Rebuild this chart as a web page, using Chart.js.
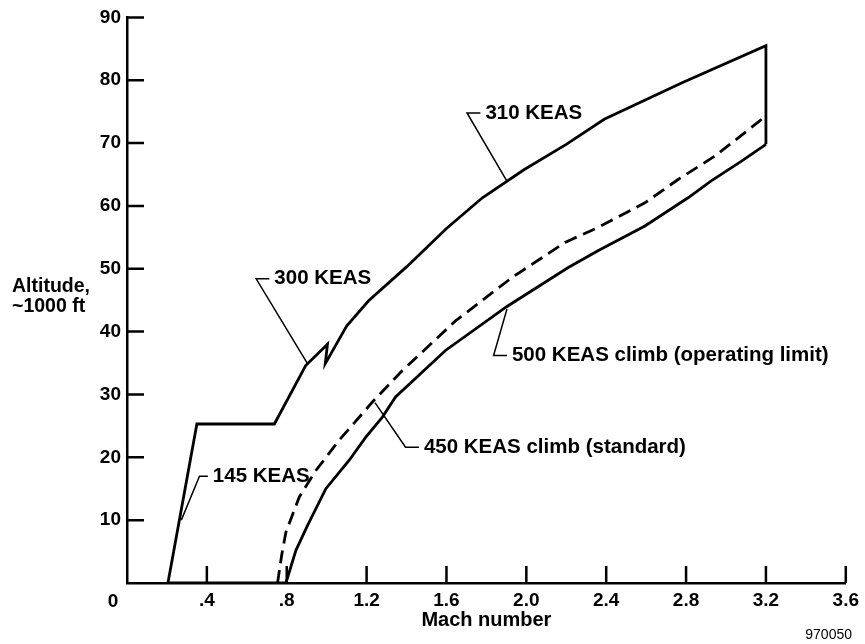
<!DOCTYPE html>
<html>
<head>
<meta charset="utf-8">
<script src="https://cdn.jsdelivr.net/npm/chart.js@4.4.0/dist/chart.umd.min.js"></script>
<style>
    html, body { margin: 0; padding: 0; background: #ffffff; }
</style>
</head>
<body>
<canvas id="envelopeChart" width="865" height="644"></canvas>
<script>
// Axis ticks
const machTicks = [0, 0.4, 0.8, 1.2, 1.6, 2.0, 2.4, 2.8, 3.2, 3.6];
const machTickLabels = ['', '.4', '.8', '1.2', '1.6', '2.0', '2.4', '2.8', '3.2', '3.6'];
const altTicks = [0, 10, 20, 30, 40, 50, 60, 70, 80, 90];
const altTickLabels = ['', '10', '20', '30', '40', '50', '60', '70', '80', '90'];

// Outer boundary: 145 / 300 / 310 KEAS and the Mach 3.2 limit (altitude in 1000 ft)
const outerMach = [0.205, 0.35, 0.738, 0.895, 1.004, 0.993, 1.10, 1.21, 1.40, 1.60, 1.78, 1.99, 2.20, 2.39, 2.78, 3.20, 3.20];
const outerAlt  = [0, 25.3, 25.3, 34.6, 38.0, 34.9, 40.9, 44.9, 50.3, 56.4, 61.3, 65.8, 69.8, 73.8, 79.6, 85.5, 69.8];

// 450 KEAS climb (standard), dashed
const standardMach = [0.754, 0.775, 0.796, 0.863, 0.946, 1.062, 1.229, 1.379, 1.645, 1.928, 2.194, 2.361, 2.594, 2.76, 2.943, 3.20];
const standardAlt  = [0, 4.5, 8.1, 13.7, 17.9, 22.7, 28.8, 33.8, 41.7, 48.6, 54.2, 56.6, 60.5, 64.2, 67.9, 74.3];

// 500 KEAS climb (operating limit), starting with the ground run
const limitMach = [0.205, 0.796, 0.846, 0.905, 0.996, 1.112, 1.196, 1.279, 1.345, 1.595, 1.903, 2.21, 2.361, 2.594, 2.81, 2.926, 3.076, 3.20];
const limitAlt  = [0, 0, 5.2, 9.2, 15.0, 19.5, 23.2, 26.4, 29.6, 37.0, 44.0, 50.2, 52.9, 56.8, 61.3, 64.0, 67.1, 69.8];

// Callouts: leader line (curve point -> elbow -> end of stub), then the text
const callouts = [
    { text: '310 KEAS', mach: [1.902, 1.703, 1.77], alt: [64.0, 74.8, 74.8] },
    { text: '300 KEAS', mach: [0.904, 0.647, 0.713], alt: [34.9, 48.4, 48.4] },
    { text: '145 KEAS', mach: [0.272, 0.363, 0.405], alt: [10.0, 17.0, 17.0] },
    { text: '450 KEAS climb (standard)', mach: [1.242, 1.395, 1.462], alt: [28.7, 21.6, 21.6] },
    { text: '500 KEAS climb (operating limit)', mach: [1.903, 1.836, 1.903], alt: [43.6, 36.2, 36.2] }
];

const FONT = '"Liberation Sans", Arial, Helvetica, sans-serif';

function toPoints(xs, ys) {
    return xs.map((x, i) => ({ x: x, y: ys[i] }));
}

const curveStyle = {
    borderColor: '#000000',
    borderWidth: 2.8,
    pointRadius: 0,
    tension: 0,
    fill: false
};

const datasets = [
    Object.assign({ label: 'Envelope', data: toPoints(outerMach, outerAlt) }, curveStyle),
    Object.assign({ label: '450 KEAS', data: toPoints(standardMach, standardAlt), borderDash: [13, 7] }, curveStyle),
    Object.assign({ label: '500 KEAS', data: toPoints(limitMach, limitAlt) }, curveStyle)
];

callouts.forEach(c => {
    datasets.push({
        label: c.text,
        data: toPoints(c.mach, c.alt),
        borderColor: '#000000',
        borderWidth: 1.5,
        pointRadius: 0,
        tension: 0,
        fill: false
    });
});

// Inward tick marks, horizontal y title, callout text, origin label
const decorPlugin = {
    id: 'decor',
    afterDraw(chart) {
        const ctx = chart.ctx;
        const xs = chart.scales.x;
        const ys = chart.scales.y;
        const left = chart.chartArea.left;
        const bottom = chart.chartArea.bottom;

        ctx.save();
        ctx.strokeStyle = '#000000';
        ctx.lineWidth = 2.5;
        ctx.beginPath();
        altTicks.forEach(v => {
            if (v === 0) return;
            const py = ys.getPixelForValue(v);
            ctx.moveTo(left, py);
            ctx.lineTo(left + 17, py);
        });
        machTicks.forEach(v => {
            if (v === 0) return;
            const px = xs.getPixelForValue(v);
            ctx.moveTo(px, bottom);
            ctx.lineTo(px, bottom - 17);
        });
        ctx.stroke();

        ctx.fillStyle = '#000000';
        ctx.font = 'bold 19px ' + FONT;
        ctx.textAlign = 'center';
        ctx.textBaseline = 'middle';
        ctx.fillText('0', xs.getPixelForValue(0) - 14, bottom + 19);

        ctx.textAlign = 'left';
        ctx.font = 'bold 19.5px ' + FONT;
        ctx.fillText('Altitude,', 12, 287);
        ctx.fillText('~1000 ft', 12, 307);

        ctx.font = 'bold 20.5px ' + FONT;
        callouts.forEach(c => {
            const n = c.mach.length - 1;
            const px = xs.getPixelForValue(c.mach[n]);
            const py = ys.getPixelForValue(c.alt[n]);
            ctx.fillText(c.text, px + 5, py);
        });

        ctx.font = '14px ' + FONT;
        ctx.textAlign = 'right';
        ctx.fillText('970050', 852, 635);
        ctx.restore();
    }
};

new Chart(document.getElementById('envelopeChart'), {
    type: 'line',
    data: { datasets: datasets },
    options: {
        responsive: false,
        animation: false,
        devicePixelRatio: 1,
        layout: { padding: { top: 16, right: 16, left: 0, bottom: 0 } },
        plugins: {
            legend: { display: false },
            tooltip: { enabled: false }
        },
        scales: {
            x: {
                type: 'linear',
                min: 0,
                max: 3.6,
                afterFit: s => { s.height = 61; },
                afterBuildTicks: s => { s.ticks = machTicks.map(v => ({ value: v })); },
                grid: { display: false, drawTicks: false },
                border: { display: true, color: '#000000', width: 2.5 },
                ticks: {
                    color: '#000000',
                    padding: 6,
                    maxRotation: 0,
                    autoSkip: false,
                    font: { family: FONT, size: 19, weight: 'bold' },
                    callback: (v, i) => machTickLabels[i]
                },
                title: {
                    display: true,
                    text: 'Mach number',
                    color: '#000000',
                    padding: { top: 0, bottom: 12 },
                    font: { family: FONT, size: 20, weight: 'bold' }
                }
            },
            y: {
                type: 'linear',
                min: 0,
                max: 90,
                afterFit: s => { s.width = 127; },
                afterBuildTicks: s => { s.ticks = altTicks.map(v => ({ value: v })); },
                grid: { display: false, drawTicks: false },
                border: { display: true, color: '#000000', width: 2.5 },
                ticks: {
                    color: '#000000',
                    padding: 6,
                    autoSkip: false,
                    font: { family: FONT, size: 19, weight: 'bold' },
                    callback: (v, i) => altTickLabels[i]
                }
            }
        }
    },
    plugins: [decorPlugin]
});
</script>
</body>
</html>
